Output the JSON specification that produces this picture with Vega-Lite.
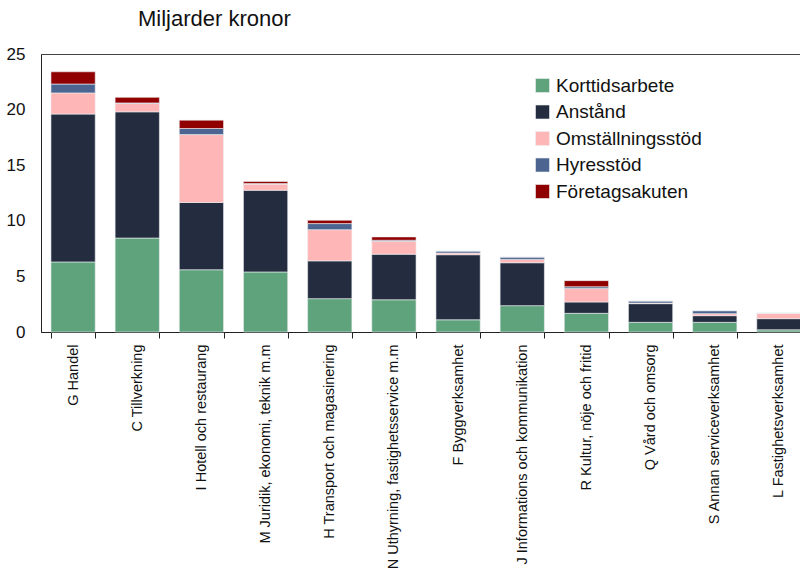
{
  "$schema": "https://vega.github.io/schema/vega-lite/v6.json",
  "autosize": "none",
  "width": 770,
  "height": 278,
  "padding": {"left": 41, "top": 54, "right": 0, "bottom": 240},
  "background": "white",
  "title": {
    "text": "Miljarder kronor",
    "anchor": "start",
    "frame": "group",
    "dx": 97,
    "offset": 14,
    "font": "Liberation Sans",
    "fontSize": 22,
    "fontWeight": "normal",
    "color": "#111"
  },
  "config": {
    "view": {"stroke": "#444", "strokeWidth": 1},
    "axis": {"labelColor": "#111", "domainColor": "#222", "tickColor": "#222"}
  },
  "data": {
    "values": [
      {"sektor": "G Handel", "typ": "Korttidsarbete", "ord": 1, "v": 6.3},
      {"sektor": "G Handel", "typ": "Anstånd", "ord": 2, "v": 13.3},
      {"sektor": "G Handel", "typ": "Omställningsstöd", "ord": 3, "v": 1.9},
      {"sektor": "G Handel", "typ": "Hyresstöd", "ord": 4, "v": 0.8},
      {"sektor": "G Handel", "typ": "Företagsakuten", "ord": 5, "v": 1.1},
      {"sektor": "C Tillverkning", "typ": "Korttidsarbete", "ord": 1, "v": 8.45},
      {"sektor": "C Tillverkning", "typ": "Anstånd", "ord": 2, "v": 11.35},
      {"sektor": "C Tillverkning", "typ": "Omställningsstöd", "ord": 3, "v": 0.75},
      {"sektor": "C Tillverkning", "typ": "Hyresstöd", "ord": 4, "v": 0.05},
      {"sektor": "C Tillverkning", "typ": "Företagsakuten", "ord": 5, "v": 0.5},
      {"sektor": "I Hotell och restaurang", "typ": "Korttidsarbete", "ord": 1, "v": 5.6},
      {"sektor": "I Hotell och restaurang", "typ": "Anstånd", "ord": 2, "v": 6.05},
      {"sektor": "I Hotell och restaurang", "typ": "Omställningsstöd", "ord": 3, "v": 6.1},
      {"sektor": "I Hotell och restaurang", "typ": "Hyresstöd", "ord": 4, "v": 0.55},
      {"sektor": "I Hotell och restaurang", "typ": "Företagsakuten", "ord": 5, "v": 0.75},
      {"sektor": "M Juridik, ekonomi, teknik m.m", "typ": "Korttidsarbete", "ord": 1, "v": 5.4},
      {"sektor": "M Juridik, ekonomi, teknik m.m", "typ": "Anstånd", "ord": 2, "v": 7.35},
      {"sektor": "M Juridik, ekonomi, teknik m.m", "typ": "Omställningsstöd", "ord": 3, "v": 0.55},
      {"sektor": "M Juridik, ekonomi, teknik m.m", "typ": "Hyresstöd", "ord": 4, "v": 0.05},
      {"sektor": "M Juridik, ekonomi, teknik m.m", "typ": "Företagsakuten", "ord": 5, "v": 0.18},
      {"sektor": "H Transport och magasinering", "typ": "Korttidsarbete", "ord": 1, "v": 3.0},
      {"sektor": "H Transport och magasinering", "typ": "Anstånd", "ord": 2, "v": 3.4},
      {"sektor": "H Transport och magasinering", "typ": "Omställningsstöd", "ord": 3, "v": 2.8},
      {"sektor": "H Transport och magasinering", "typ": "Hyresstöd", "ord": 4, "v": 0.55},
      {"sektor": "H Transport och magasinering", "typ": "Företagsakuten", "ord": 5, "v": 0.3},
      {"sektor": "N Uthyrning, fastighetsservice m.m", "typ": "Korttidsarbete", "ord": 1, "v": 2.9},
      {"sektor": "N Uthyrning, fastighetsservice m.m", "typ": "Anstånd", "ord": 2, "v": 4.1},
      {"sektor": "N Uthyrning, fastighetsservice m.m", "typ": "Omställningsstöd", "ord": 3, "v": 1.15},
      {"sektor": "N Uthyrning, fastighetsservice m.m", "typ": "Hyresstöd", "ord": 4, "v": 0.1},
      {"sektor": "N Uthyrning, fastighetsservice m.m", "typ": "Företagsakuten", "ord": 5, "v": 0.3},
      {"sektor": "F Byggverksamhet", "typ": "Korttidsarbete", "ord": 1, "v": 1.1},
      {"sektor": "F Byggverksamhet", "typ": "Anstånd", "ord": 2, "v": 5.85},
      {"sektor": "F Byggverksamhet", "typ": "Omställningsstöd", "ord": 3, "v": 0.15},
      {"sektor": "F Byggverksamhet", "typ": "Hyresstöd", "ord": 4, "v": 0.18},
      {"sektor": "F Byggverksamhet", "typ": "Företagsakuten", "ord": 5, "v": 0.0},
      {"sektor": "J Informations och kommunikation", "typ": "Korttidsarbete", "ord": 1, "v": 2.37},
      {"sektor": "J Informations och kommunikation", "typ": "Anstånd", "ord": 2, "v": 3.86},
      {"sektor": "J Informations och kommunikation", "typ": "Omställningsstöd", "ord": 3, "v": 0.3},
      {"sektor": "J Informations och kommunikation", "typ": "Hyresstöd", "ord": 4, "v": 0.21},
      {"sektor": "J Informations och kommunikation", "typ": "Företagsakuten", "ord": 5, "v": 0.0},
      {"sektor": "R Kultur,  nöje och fritid", "typ": "Korttidsarbete", "ord": 1, "v": 1.68},
      {"sektor": "R Kultur,  nöje och fritid", "typ": "Anstånd", "ord": 2, "v": 1.02},
      {"sektor": "R Kultur,  nöje och fritid", "typ": "Omställningsstöd", "ord": 3, "v": 1.22},
      {"sektor": "R Kultur,  nöje och fritid", "typ": "Hyresstöd", "ord": 4, "v": 0.15},
      {"sektor": "R Kultur,  nöje och fritid", "typ": "Företagsakuten", "ord": 5, "v": 0.55},
      {"sektor": "Q Vård och omsorg", "typ": "Korttidsarbete", "ord": 1, "v": 0.87},
      {"sektor": "Q Vård och omsorg", "typ": "Anstånd", "ord": 2, "v": 1.68},
      {"sektor": "Q Vård och omsorg", "typ": "Omställningsstöd", "ord": 3, "v": 0.05},
      {"sektor": "Q Vård och omsorg", "typ": "Hyresstöd", "ord": 4, "v": 0.19},
      {"sektor": "Q Vård och omsorg", "typ": "Företagsakuten", "ord": 5, "v": 0.0},
      {"sektor": "S Annan serviceverksamhet", "typ": "Korttidsarbete", "ord": 1, "v": 0.87},
      {"sektor": "S Annan serviceverksamhet", "typ": "Anstånd", "ord": 2, "v": 0.6},
      {"sektor": "S Annan serviceverksamhet", "typ": "Omställningsstöd", "ord": 3, "v": 0.18},
      {"sektor": "S Annan serviceverksamhet", "typ": "Hyresstöd", "ord": 4, "v": 0.27},
      {"sektor": "S Annan serviceverksamhet", "typ": "Företagsakuten", "ord": 5, "v": 0.0},
      {"sektor": "L Fastighetsverksamhet", "typ": "Korttidsarbete", "ord": 1, "v": 0.2},
      {"sektor": "L Fastighetsverksamhet", "typ": "Anstånd", "ord": 2, "v": 1.0},
      {"sektor": "L Fastighetsverksamhet", "typ": "Omställningsstöd", "ord": 3, "v": 0.5},
      {"sektor": "L Fastighetsverksamhet", "typ": "Hyresstöd", "ord": 4, "v": 0.0},
      {"sektor": "L Fastighetsverksamhet", "typ": "Företagsakuten", "ord": 5, "v": 0.0}
    ]
  },
  "mark": {"type": "bar", "stroke": "#eef0f4", "strokeWidth": 0.6},
  "encoding": {
    "x": {
      "field": "sektor",
      "type": "nominal",
      "sort": null,
      "scale": {"paddingInner": 0.31, "paddingOuter": 0.155},
      "axis": {
        "title": null,
        "labelAngle": 270,
        "labelFont": "Liberation Sans",
        "labelFontSize": 14.5,
        "labelPadding": 6,
        "tickBand": "extent",
        "tickSize": 6,
        "labelLimit": 400
      }
    },
    "y": {
      "field": "v",
      "type": "quantitative",
      "stack": "zero",
      "scale": {"domain": [0, 25], "nice": false},
      "axis": {
        "title": null,
        "values": [0, 5, 10, 15, 20, 25],
        "grid": false,
        "ticks": false,
        "labelPadding": 16,
        "labelFont": "Liberation Sans",
        "labelFontSize": 17
      }
    },
    "color": {
      "field": "typ",
      "type": "nominal",
      "sort": ["Korttidsarbete", "Anstånd", "Omställningsstöd", "Hyresstöd", "Företagsakuten"],
      "scale": {
        "domain": ["Korttidsarbete", "Anstånd", "Omställningsstöd", "Hyresstöd", "Företagsakuten"],
        "range": ["#5FA37D", "#232D3F", "#FFB6B6", "#4C6590", "#900000"]
      },
      "legend": {
        "title": null,
        "orient": "none",
        "legendX": 492,
        "legendY": 22,
        "symbolType": "square",
        "symbolSize": 196,
        "symbolStrokeWidth": 0.6,
        "labelFont": "Liberation Sans",
        "labelFontSize": 19,
        "labelColor": "#111",
        "rowPadding": 6.5,
        "labelOffset": 4
      }
    },
    "order": {"field": "ord", "type": "quantitative", "sort": "ascending"}
  }
}
